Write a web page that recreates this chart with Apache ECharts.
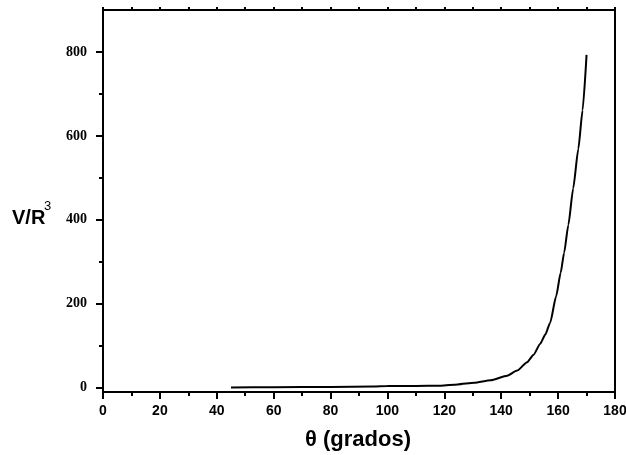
<!DOCTYPE html>
<html>
<head>
<meta charset="utf-8">
<script src="https://cdn.jsdelivr.net/npm/echarts@6/dist/echarts.min.js"></script>
<style>html,body{margin:0;padding:0;background:#fff;}#c{width:626px;height:455px;}</style>
</head>
<body>
<div id="c"></div>
<script>
var theta = [45,60,80,95,100,110,118.8,124.7,130.5,136.3,142.1,145.6,149.1,151.4,153.7,155.5,157.2,159.3,160.9,162.1,163.6,165.3,167.1,168.6,170];
var vr = [1,1.5,2,3,4,4.5,5,8,12,18,29,41,61,79,105,127,155,218,274,321,388,475,569,661,793];
var yTicks = [0,200,400,600,800];
var yMinorTicks = [100,300,500,700];
var xTitle = 'θ (grados)';
var yTitle = 'V/R';
var ySup = '3';

var chart = echarts.init(document.getElementById('c'), null, {renderer:'canvas'});
var pts = theta.map(function(t,i){return [t, vr[i]];});
chart.setOption({
  animation:false,
  backgroundColor:'#fff',
  grid:{left:103,right:11,top:10,bottom:63,outerBoundsMode:'none',containLabel:false,show:true,borderColor:'#000',borderWidth:2,backgroundColor:'transparent'},
  xAxis:[{
    type:'value',min:0,max:180,interval:20,position:'bottom',
    axisLine:{show:true,onZero:false,lineStyle:{color:'#000',width:2}},
    axisTick:{show:true,length:7,lineStyle:{color:'#000',width:2}},
    minorTick:{show:true,splitNumber:2,length:4,lineStyle:{color:'#000',width:2}},
    splitLine:{show:false},
    axisLabel:{color:'#000',fontFamily:'Liberation Sans',fontWeight:'bold',fontSize:14,margin:12}
  },{
    type:'value',min:0,max:180,interval:10,position:'top',
    axisLine:{show:true,onZero:false,lineStyle:{color:'#000',width:2}},
    axisTick:{show:true,length:3,lineStyle:{color:'#000',width:2}},
    splitLine:{show:false},axisLabel:{show:false}
  }],
  yAxis:[{
    type:'value',min:-10,max:900,position:'left',
    axisLine:{show:true,onZero:false,lineStyle:{color:'#000',width:2}},
    axisTick:{show:true,length:7,customValues:yTicks,lineStyle:{color:'#000',width:2}},
    splitLine:{show:false},
    axisLabel:{color:'#000',fontFamily:'Liberation Serif',fontWeight:'bold',fontSize:14,margin:16,customValues:yTicks}
  },{
    type:'value',min:-10,max:900,position:'left',
    axisLine:{show:false,onZero:false},
    axisTick:{show:true,length:4,customValues:yMinorTicks,lineStyle:{color:'#000',width:2}},
    splitLine:{show:false},axisLabel:{show:false}
  }],
  series:[{
    type:'line',data:pts,xAxisIndex:0,yAxisIndex:0,showSymbol:false,smooth:0.2,smoothMonotone:'x',
    lineStyle:{color:'#000',width:2}
  }],
  graphic:[
    {type:'text',x:12,y:218,style:{text:yTitle,fill:'#000',font:'bold 20px "Liberation Sans"',textAlign:'left',textVerticalAlign:'middle'}},
    {type:'text',x:44,y:206,style:{text:ySup,fill:'#000',font:'13px "Liberation Sans"',textAlign:'left',textVerticalAlign:'middle'}},
    {type:'text',x:358,y:440,style:{text:xTitle,fill:'#000',font:'bold 22px "Liberation Sans"',textAlign:'center',textVerticalAlign:'middle'}}
  ]
});
</script>
</body>
</html>
